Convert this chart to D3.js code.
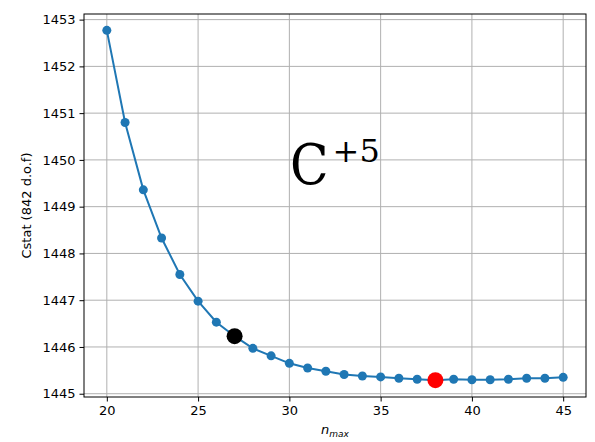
<!DOCTYPE html>
<html>
<head>
<meta charset="utf-8">
<script src="https://cdn.jsdelivr.net/npm/d3@7"></script>
<style>
  body { margin: 0; background: #fff; }
  svg { display: block; }
  .tick text { font-family: "DejaVu Sans", sans-serif; font-size: 13px; fill: #000; }
</style>
</head>
<body>
<svg id="chart"></svg>
<script>
const width = 595;
const height = 442;
const margin = {top: 14, right: 9, bottom: 45, left: 84};

// n_max values and Cstat values
const nmax = [20, 21, 22, 23, 24, 25, 26, 27, 28, 29, 30, 31, 32, 33, 34, 35, 36, 37, 38, 39, 40, 41, 42, 43, 44, 45];
const cstat = [1452.77, 1450.80, 1449.36, 1448.33, 1447.55, 1446.98, 1446.53, 1446.23, 1445.97, 1445.81,
               1445.65, 1445.55, 1445.48, 1445.41, 1445.38, 1445.36, 1445.33, 1445.31, 1445.29, 1445.31,
               1445.30, 1445.30, 1445.31, 1445.33, 1445.33, 1445.35];
const xTicks = [20, 25, 30, 35, 40, 45];
const yTicks = [1445, 1446, 1447, 1448, 1449, 1450, 1451, 1452, 1453];
// highlighted points
const chosen = [{n: 27, v: 1446.23, color: 'black'}, {n: 38, v: 1445.29, color: 'red'}];

const svg = d3.select('#chart').attr('width', width).attr('height', height);
const iw = width - margin.left - margin.right;
const ih = height - margin.top - margin.bottom;
const g = svg.append('g').attr('transform', `translate(${margin.left},${margin.top})`);

const x = d3.scaleLinear().domain([18.75, 46.25]).range([0, iw]);
const y = d3.scaleLinear().domain([1444.93, 1453.12]).range([ih, 0]);

// grid
g.append('g').selectAll('line').data(xTicks).enter().append('line')
    .attr('x1', d => x(d)).attr('x2', d => x(d)).attr('y1', 0).attr('y2', ih)
    .style('stroke', '#b0b0b0').style('stroke-width', 1);
g.append('g').selectAll('line').data(yTicks).enter().append('line')
    .attr('y1', d => y(d)).attr('y2', d => y(d)).attr('x1', 0).attr('x2', iw)
    .style('stroke', '#b0b0b0').style('stroke-width', 1);

// axes
const xAxis = g.append('g').attr('transform', `translate(0,${ih})`)
    .call(d3.axisBottom(x).tickValues(xTicks).tickSize(4.5).tickPadding(4).tickFormat(d3.format('d')));
const yAxis = g.append('g')
    .call(d3.axisLeft(y).tickValues(yTicks).tickSize(4.5).tickPadding(4).tickFormat(d3.format('d')));
[xAxis, yAxis].forEach(a => {
    a.select('.domain').remove();
    a.selectAll('.tick line').style('stroke', '#000').style('stroke-width', 1);
});

// line + markers
const line = d3.line().x((d, i) => x(nmax[i])).y(d => y(d));
g.append('path').datum(cstat).attr('d', line)
    .style('fill', 'none').style('stroke', '#1f77b4').style('stroke-width', 2);
g.append('g').selectAll('circle').data(cstat).enter().append('circle')
    .attr('cx', (d, i) => x(nmax[i])).attr('cy', d => y(d)).attr('r', 4.5)
    .style('fill', '#1f77b4');
g.append('g').selectAll('circle').data(chosen).enter().append('circle')
    .attr('cx', d => x(d.n)).attr('cy', d => y(d.v)).attr('r', 8)
    .style('fill', d => d.color);

// frame
g.append('rect').attr('width', iw).attr('height', ih)
    .style('fill', 'none').style('stroke', '#000').style('stroke-width', 1);

// big label
const lab = svg.append('text').attr('x', 290).attr('y', 184)
    .style('font-family', '"DejaVu Serif Condensed", "DejaVu Serif", serif')
    .style('fill', '#000');
lab.append('tspan').style('font-size', '56px').style('font-stretch', 'condensed').text('C');
lab.append('tspan').attr('dy', -22).attr('dx', 4).style('font-size', '32px')
    .style('font-family', '"DejaVu Serif", serif').text('+5');

// axis labels
svg.append('text').attr('transform', 'translate(31,' + (margin.top + ih / 2) + ') rotate(-90)')
    .attr('text-anchor', 'middle')
    .style('font-family', '"DejaVu Sans", sans-serif').style('font-size', '13px')
    .text('Cstat (842 d.o.f)');
const xl = svg.append('text').attr('x', margin.left + iw / 2).attr('y', 434)
    .attr('text-anchor', 'middle')
    .style('font-family', '"DejaVu Sans", sans-serif').style('font-size', '13px').style('font-style', 'italic');
xl.append('tspan').text('n');
xl.append('tspan').attr('dy', 3).style('font-size', '9px').text('max');
</script>
</body>
</html>
